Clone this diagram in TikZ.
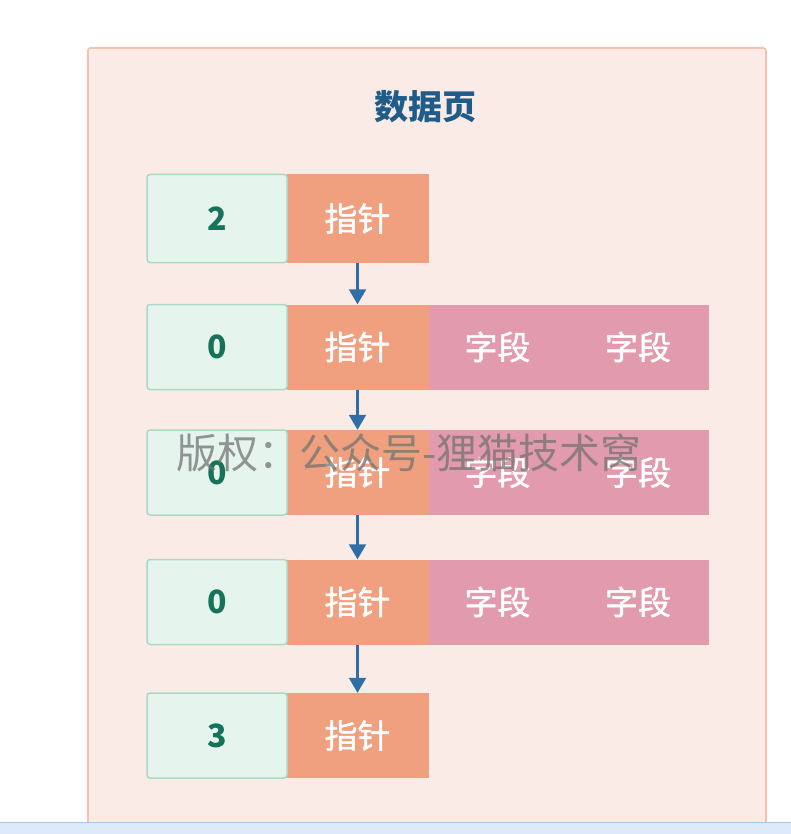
\documentclass[tikz,border=0pt]{standalone}
\usepackage{fontspec}
\setmainfont{Noto Sans CJK SC}
\newfontfamily\cjkmid{Noto Sans CJK SC}[FakeBold=1.3]
\usetikzlibrary{arrows.meta}
\definecolor{pagebg}{HTML}{FBEBE6}
\definecolor{pageborder}{HTML}{F1C2AF}
\definecolor{greenfill}{HTML}{E6F4EE}
\definecolor{greenborder}{HTML}{A9D9C5}
\definecolor{orangefill}{HTML}{F0A07E}
\definecolor{pinkfill}{HTML}{E29AAD}
\definecolor{titleblue}{HTML}{1F5C89}
\definecolor{digitgreen}{HTML}{16735A}
\definecolor{arrowblue}{HTML}{2F6EA6}
\definecolor{barfill}{HTML}{DCEAFB}
\definecolor{barline}{HTML}{AAC6E6}
\tikzset{
  cellbase/.style={inner sep=0pt, minimum height=85pt},
  numcell/.style={cellbase, minimum width=140pt, fill=greenfill, draw=greenborder, line width=1.5pt,
    rounded corners=3pt, text=digitgreen, font=\fontsize{32}{32}\selectfont\bfseries},
  ptrcell/.style={cellbase, minimum width=142pt, fill=orangefill, text=white,
    font=\fontsize{33}{33}\cjkmid},
  fieldcell/.style={cellbase, minimum width=142pt, fill=pinkfill, text=white,
    font=\fontsize{33}{33}\cjkmid},
  link/.style={draw=arrowblue, line width=2.2pt, -{Triangle[width=17pt,length=15pt]}},
}
\begin{document}
\begin{tikzpicture}[x=1pt,y=-1pt]
\useasboundingbox (0,0) rectangle (791,834);
\fill[white] (0,0) rectangle (791,834);
% page container
\node[draw=pageborder, fill=pagebg, line width=1.8pt, rounded corners=3pt, inner sep=0pt,
  minimum width=678pt, minimum height=800pt, anchor=north west] (page) at (87,47) {};
\node[text=titleblue, font=\fontsize{34}{34}\selectfont\bfseries] (title) at (425,107) {数据页};
% row 1
\node[ptrcell, minimum height=88pt] (p1) at (357.5,218.5) {指针};
\node[numcell, minimum height=88pt] (n1) at (217,218.5) {2};
% row 2
\node[fieldcell] (f2b) at (638,347) {字段};
\node[fieldcell] (f2a) at (497.5,347) {字段};
\node[ptrcell] (p2) at (357.5,347) {指针};
\node[numcell] (n2) at (217,347) {0};
% row 3
\node[fieldcell] (f3b) at (638,472.5) {字段};
\node[fieldcell] (f3a) at (497.5,472.5) {字段};
\node[ptrcell] (p3) at (357.5,472.5) {指针};
\node[numcell] (n3) at (217,472.5) {0};
% row 4
\node[fieldcell] (f4b) at (638,602) {字段};
\node[fieldcell] (f4a) at (497.5,602) {字段};
\node[ptrcell] (p4) at (357.5,602) {指针};
\node[numcell] (n4) at (217,602) {0};
% row 5
\node[ptrcell] (p5) at (357.5,735.5) {指针};
\node[numcell] (n5) at (217,735.5) {3};
% links
\draw[link] (p1.south) -- (p2.north);
\draw[link] (p2.south) -- (p3.north);
\draw[link] (p3.south) -- (p4.north);
\draw[link] (p4.south) -- (p5.north);
% watermark
\node[text=black!55, opacity=0.75, font=\fontsize{41}{41}\selectfont, inner sep=0pt] (wm) at (409,453) {版权：公众号-狸猫技术窝};
% bottom bar
\node[fill=barfill, inner sep=0pt, minimum width=791pt, minimum height=12pt, anchor=north west] (bar) at (0,822) {};
\draw[barline, line width=1pt] (bar.north west) -- (bar.north east);
\end{tikzpicture}
\end{document}
